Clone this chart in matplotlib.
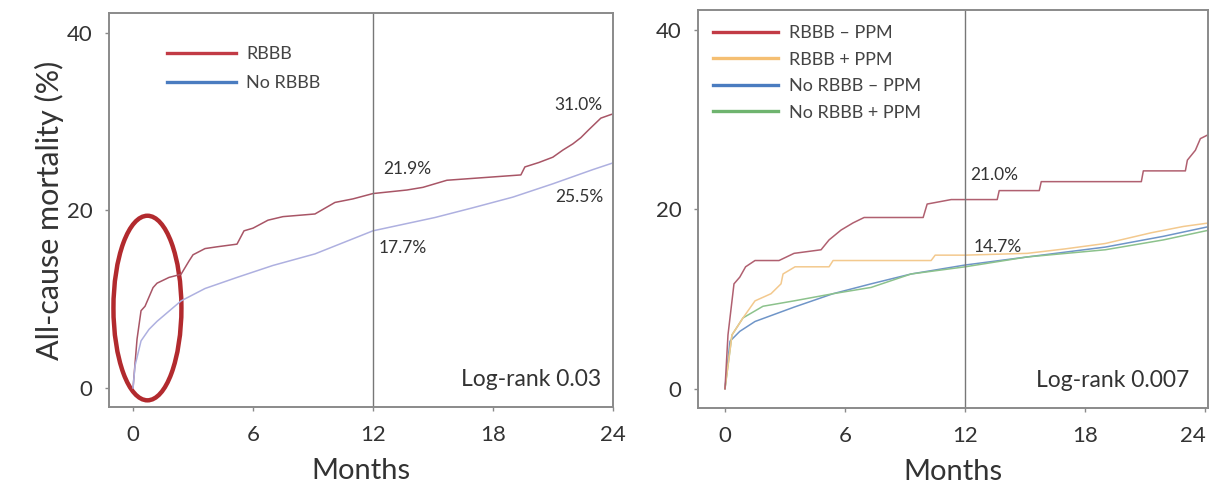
import matplotlib
matplotlib.use('Agg')
import matplotlib.pyplot as plt
from matplotlib.patches import Ellipse

plt.rcParams['font.family'] = ['Lato', 'DejaVu Sans']

# ---- left panel: RBBB vs no RBBB (months, cumulative mortality %) ----
rbbb_t = [0, 0.2, 0.4, 0.6, 1.0, 1.2, 1.8, 2.4, 2.8, 3.0, 3.6, 4.2, 5.2, 5.55,
          6.0, 6.75, 7.5, 9.1, 10.1, 11.0, 12.0, 13.7, 14.5, 15.7, 19.4, 19.6,
          20.3, 21.0, 21.5, 22.0, 22.4, 22.8, 23.4, 23.9, 24.2]
rbbb_y = [0, 5.5, 8.7, 9.2, 11.3, 11.8, 12.45, 12.8, 14.3, 15.0, 15.7, 15.9,
          16.2, 17.7, 18.0, 18.9, 19.3, 19.6, 20.9, 21.3, 21.9, 22.3, 22.6,
          23.4, 24.0, 24.9, 25.4, 26.0, 26.8, 27.5, 28.2, 29.1, 30.4, 30.8, 31.0]
norbbb_t = [0, 0.1, 0.4, 0.8, 1.2, 2.4, 3.6, 5.2, 7.0, 9.1, 12.0, 15.1, 17.0,
            19.0, 21.0, 23.0, 24.2]
norbbb_y = [0, 2.5, 5.3, 6.6, 7.5, 9.8, 11.2, 12.45, 13.8, 15.1, 17.7, 19.2,
            20.3, 21.5, 23.0, 24.6, 25.5]

# ---- right panel: by RBBB and PPM ----
r_mp_t = [0, 0.15, 0.45, 0.74, 1.03, 1.5, 2.7, 3.45, 4.8, 5.2, 5.8, 6.4, 6.95,
          9.9, 10.1, 11.3, 13.6, 13.7, 15.7, 15.8, 20.8, 20.9, 23.0, 23.1,
          23.5, 23.75, 24.2]
r_mp_y = [0, 6.0, 11.7, 12.45, 13.6, 14.3, 14.3, 15.1, 15.5, 16.6, 17.7, 18.5,
          19.1, 19.1, 20.6, 21.1, 21.1, 22.1, 22.1, 23.1, 23.1, 24.3, 24.3,
          25.5, 26.6, 27.9, 28.4]
r_pp_t = [0, 0.35, 0.9, 1.5, 2.3, 2.8, 2.9, 3.5, 5.2, 5.4, 10.3, 10.5, 12.0,
          15.1, 17.0, 19.0, 21.3, 22.9, 24.2]
r_pp_y = [0, 6.0, 7.9, 9.8, 10.6, 11.7, 12.8, 13.6, 13.6, 14.3, 14.3, 14.9,
          14.9, 15.1, 15.6, 16.2, 17.4, 18.1, 18.5]
n_mp_t = [0, 0.25, 0.74, 1.5, 3.45, 5.4, 7.3, 9.3, 12.0, 15.1, 19.0, 21.9, 24.2]
n_mp_y = [0, 5.3, 6.4, 7.5, 9.1, 10.6, 11.7, 12.8, 13.8, 14.7, 15.8, 17.0, 18.1]
n_pp_t = [0, 0.35, 0.9, 1.9, 3.45, 5.4, 7.3, 9.3, 12.0, 15.1, 19.0, 21.9, 24.2]
n_pp_y = [0, 6.0, 7.9, 9.2, 9.8, 10.6, 11.3, 12.8, 13.6, 14.7, 15.5, 16.6, 17.7]

xticks = [0, 6, 12, 18, 24]
yticks = [0, 20, 40]

RED = '#c23b45'
BLUE = '#4a7cc0'
ORANGE = '#f5bf72'
GREEN = '#6fb46f'
SPINE = '#8a8a8a'
TXT = '#333333'


def style_axes(ax, xlim):
    ax.set_xlim(*xlim)
    ax.set_ylim(-2.15, 42.25)
    ax.set_xticks(xticks)
    ax.set_yticks(yticks)
    for s in ax.spines.values():
        s.set_color(SPINE)
        s.set_linewidth(1.4)
    ax.tick_params(axis='both', direction='out', length=3, width=1,
                   color=SPINE, labelcolor=TXT, labelsize=16)
    ax.tick_params(axis='x', pad=10)
    ax.tick_params(axis='y', pad=9)
    ax.axvline(12, color='#777777', lw=1.0)
    ax.set_xlabel("Months", fontsize=21, color=TXT, labelpad=9)


def add_legend(ax, colors, labels, anchor, hlen, spacing):
    leg = ax.legend(handles=[plt.Line2D([], [], color=c, lw=2.4) for c in colors],
                    labels=labels, loc='upper left', bbox_to_anchor=anchor,
                    frameon=False, fontsize=13, handlelength=hlen,
                    handletextpad=0.6, labelspacing=spacing, borderpad=0,
                    borderaxespad=0)
    for t in leg.get_texts():
        t.set_color('#444444')


fig = plt.figure(figsize=(12.09, 4.86), dpi=100)
ax1 = fig.add_axes([0.0902, 0.1626, 0.4167, 0.8107])
ax2 = fig.add_axes([0.5773, 0.1605, 0.4222, 0.8190])

# left
ax1.plot(rbbb_t, rbbb_y, color='#a85566', lw=1.1)
ax1.plot(norbbb_t, norbbb_y, color='#aeb0e0', lw=1.1)
style_axes(ax1, (-1.2, 24.0))
ax1.set_ylabel("All-cause mortality (%)", fontsize=22, color=TXT, labelpad=2)
ax1.add_patch(Ellipse((0.72, 9.0), 3.4, 20.8, fill=False,
                      edgecolor='#b22a2e', lw=3.2))
for x, y, s in [(13.7, 24.7, "21.9%"), (13.5, 15.8, "17.7%"),
                (22.3, 31.9, "31.0%"), (22.3, 21.5, "25.5%")]:
    ax1.text(x, y, s, fontsize=12.5, ha='center', va='center', color=TXT)
ax1.text(23.4, 0.9, "Log-rank 0.03", fontsize=16.5, ha='right', va='center',
         color=TXT)
add_legend(ax1, [RED, BLUE], ['RBBB', 'No RBBB'], (0.115, 0.915), 3.8, 0.7)

# right
ax2.plot(n_mp_t, n_mp_y, color='#6f95c8', lw=1.1)
ax2.plot(n_pp_t, n_pp_y, color='#8cc28c', lw=1.1)
ax2.plot(r_pp_t, r_pp_y, color='#f3c98e', lw=1.1)
ax2.plot(r_mp_t, r_mp_y, color='#b06070', lw=1.1)
style_axes(ax2, (-1.35, 24.15))
ax2.get_xticklabels()[-1].set_horizontalalignment('right')
ax2.text(13.45, 23.8, "21.0%", fontsize=12.5, ha='center', va='center',
         color=TXT)
ax2.text(13.65, 15.85, "14.7%", fontsize=12.5, ha='center', va='center',
         color=TXT)
ax2.text(23.2, 0.95, "Log-rank 0.007", fontsize=16.5, ha='right', va='center',
         color=TXT)
add_legend(ax2, [RED, ORANGE, BLUE, GREEN],
           ['RBBB \u2013 PPM', 'RBBB + PPM', 'No RBBB \u2013 PPM',
            'No RBBB + PPM'], (0.03, 0.962), 3.6, 0.58)

fig.savefig("out.png", dpi=100)
